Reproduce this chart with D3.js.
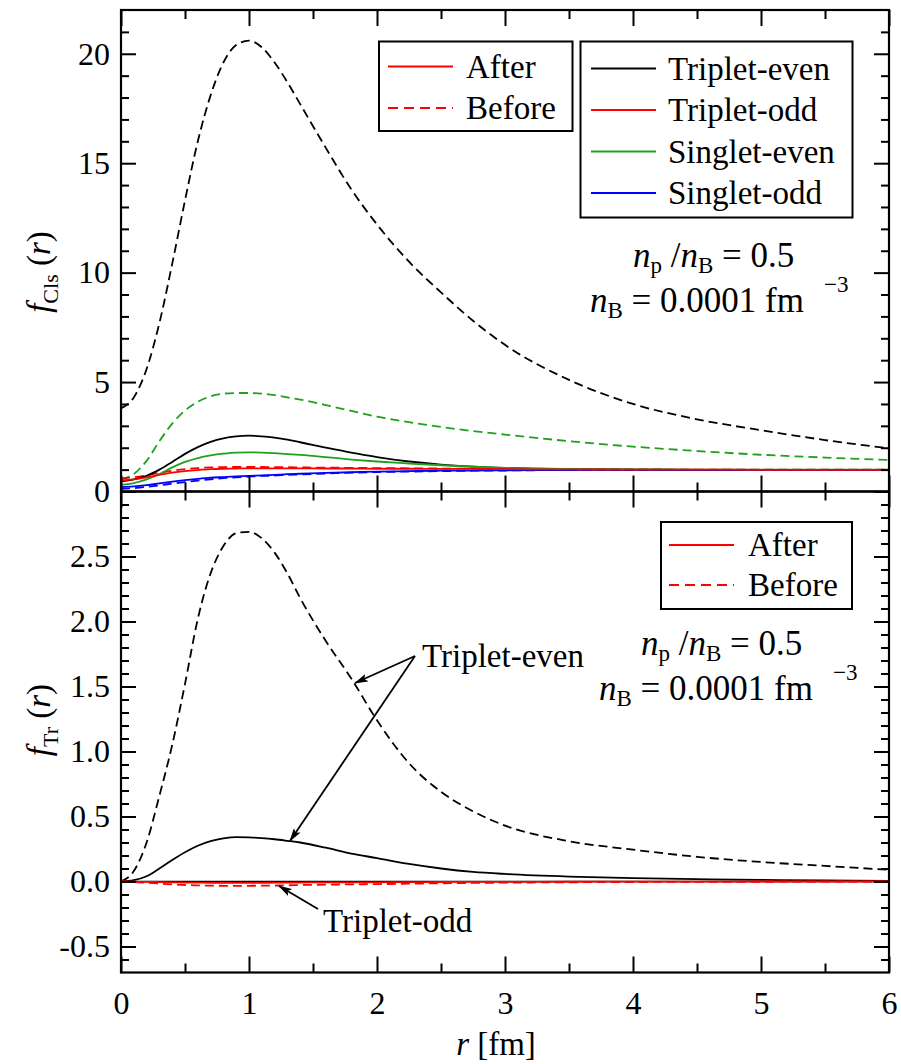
<!DOCTYPE html>
<html>
<head>
<meta charset="utf-8">
<script src="https://cdn.jsdelivr.net/npm/d3@7"></script>
<style>
  body { margin: 0; background: #fff; }
  svg { display: block; background: #fff; }
  svg text { font-family: "Liberation Serif", "Tinos", "Times New Roman", "Nimbus Roman", "DejaVu Serif", serif !important; fill: #000; }
</style>
</head>
<body>
<svg id="chart" width="901" height="1064"></svg>
<script>
// Radial grid (fm) shared by every curve
const r = [0, 0.1, 0.2, 0.3, 0.4, 0.5, 0.6, 0.7, 0.8, 0.9, 1.0, 1.1, 1.2, 1.3, 1.4, 1.6, 1.8, 2.0, 2.25, 2.5, 2.75, 3.0, 3.5, 4.0, 4.5, 5.0, 5.5, 6.0];

// Upper panel: f_Cls(r)
const clsTripletEvenBefore = [3.8, 4.3, 5.6, 7.7, 10.4, 13.3, 16.0, 18.1, 19.6, 20.4, 20.6, 20.3, 19.6, 18.7, 17.7, 15.7, 13.8, 12.2, 10.5, 9.1, 7.8, 6.7, 5.1, 4.0, 3.3, 2.8, 2.35, 1.97];
const clsTripletEvenAfter  = [0.45, 0.55, 0.72, 1.0, 1.35, 1.72, 2.03, 2.27, 2.43, 2.52, 2.55, 2.52, 2.46, 2.37, 2.25, 2.0, 1.78, 1.57, 1.37, 1.23, 1.14, 1.08, 1.02, 1.0, 0.99, 0.99, 0.99, 0.99];
const clsTripletOddBefore  = [0.6, 0.65, 0.74, 0.85, 0.95, 1.02, 1.07, 1.1, 1.11, 1.12, 1.12, 1.12, 1.11, 1.11, 1.1, 1.09, 1.08, 1.07, 1.06, 1.05, 1.04, 1.03, 1.02, 1.01, 1.0, 1.0, 1.0, 1.0];
const clsTripletOddAfter   = [0.5, 0.55, 0.65, 0.76, 0.86, 0.93, 0.98, 1.02, 1.04, 1.05, 1.06, 1.06, 1.06, 1.06, 1.06, 1.05, 1.05, 1.04, 1.04, 1.03, 1.03, 1.02, 1.01, 1.0, 1.0, 0.99, 0.99, 0.99];
const clsSingletEvenBefore = [0.55, 0.8, 1.4, 2.3, 3.1, 3.7, 4.1, 4.35, 4.47, 4.5, 4.5, 4.47, 4.4, 4.3, 4.2, 3.95, 3.68, 3.42, 3.17, 2.95, 2.76, 2.6, 2.3, 2.05, 1.85, 1.68, 1.55, 1.44];
const clsSingletEvenAfter  = [0.3, 0.38, 0.55, 0.8, 1.1, 1.35, 1.53, 1.65, 1.73, 1.78, 1.79, 1.78, 1.75, 1.71, 1.67, 1.57, 1.46, 1.37, 1.28, 1.2, 1.13, 1.08, 1.03, 1.01, 1.0, 1.0, 1.0, 1.0];
const clsSingletOddBefore  = [0.12, 0.15, 0.21, 0.28, 0.36, 0.43, 0.5, 0.56, 0.61, 0.65, 0.68, 0.71, 0.73, 0.76, 0.78, 0.82, 0.86, 0.89, 0.91, 0.93, 0.95, 0.96, 0.98, 0.98, 0.99, 0.99, 0.99, 0.99];
const clsSingletOddAfter   = [0.2, 0.23, 0.29, 0.37, 0.45, 0.52, 0.58, 0.63, 0.66, 0.69, 0.71, 0.74, 0.76, 0.79, 0.81, 0.85, 0.88, 0.91, 0.93, 0.95, 0.96, 0.97, 0.98, 0.99, 0.99, 0.99, 0.99, 0.99];

// Lower panel: f_Tr(r)
const trTripletEvenBefore = [0, 0.08, 0.3, 0.66, 1.05, 1.52, 2.02, 2.37, 2.58, 2.68, 2.69, 2.64, 2.53, 2.37, 2.18, 1.85, 1.56, 1.24, 0.91, 0.69, 0.54, 0.43, 0.31, 0.245, 0.19, 0.15, 0.12, 0.09];
const trTripletEvenAfter  = [0, 0.01, 0.04, 0.1, 0.165, 0.225, 0.275, 0.31, 0.332, 0.342, 0.34, 0.334, 0.325, 0.313, 0.3, 0.26, 0.215, 0.18, 0.135, 0.1, 0.074, 0.058, 0.038, 0.026, 0.018, 0.012, 0.008, 0.005];
const trTripletOddBefore  = [0, -0.005, -0.01, -0.016, -0.022, -0.027, -0.03, -0.032, -0.033, -0.033, -0.033, -0.032, -0.031, -0.029, -0.027, -0.024, -0.022, -0.02, -0.017, -0.014, -0.011, -0.009, -0.006, -0.004, -0.003, -0.002, -0.001, -0.001];
const trTripletOddAfter   = [0, -0.002, -0.003, -0.005, -0.006, -0.008, -0.009, -0.01, -0.01, -0.01, -0.01, -0.01, -0.009, -0.009, -0.008, -0.007, -0.007, -0.006, -0.005, -0.004, -0.003, -0.003, -0.002, -0.001, -0.001, 0, 0, 0];

// Tick values
const xMajor = [0, 1, 2, 3, 4, 5, 6];
const xMinor = [0.5, 1.5, 2.5, 3.5, 4.5, 5.5];
const yTopMajor = [0, 5, 10, 15, 20];
const yBotMajor = [-0.5, 0.0, 0.5, 1.0, 1.5, 2.0, 2.5];

// Legend entries
const speciesNames = ["Triplet-even", "Triplet-odd", "Singlet-even", "Singlet-odd"];
const speciesColors = ["#000000", "#ff0000", "#1fa01f", "#0000ff"];
const stateNames = ["After", "Before"];

const RED = "#ff0000", GREEN = "#1fa01f", BLUE = "#0000ff", BLACK = "#000000";
const DASH = "9,5";
const SERIF = "'Liberation Serif', 'Tinos', 'Times New Roman', 'Nimbus Roman', 'DejaVu Serif', serif";

const svg = d3.select("#chart").attr("font-family", SERIF);
const L = 121, R = 889, T = 10, MID = 491.5, B = 972.5;

const x = d3.scaleLinear().domain([0, 6]).range([L, R]);
const yTop = d3.scaleLinear().domain([0, 22]).range([MID, T]);
const yBot = d3.scaleLinear().domain([-0.7, 3.0]).range([B, MID]);

const defs = svg.append("defs");
defs.append("clipPath").attr("id", "clipTop")
  .append("rect").attr("x", L).attr("y", T).attr("width", R - L).attr("height", MID - T);
defs.append("clipPath").attr("id", "clipBot")
  .append("rect").attr("x", L).attr("y", MID).attr("width", R - L).attr("height", B - MID);
defs.append("marker").attr("id", "arrow")
  .attr("markerUnits", "userSpaceOnUse")
  .attr("markerWidth", 14).attr("markerHeight", 8)
  .attr("refX", 13).attr("refY", 4).attr("orient", "auto")
  .append("path").attr("d", "M0,0 L14,4 L0,8 L3,4 Z").attr("fill", "#000");

function drawCurve(g, yScale, values, color, dashed) {
  const line = d3.line()
    .x((d, i) => x(r[i]))
    .y(d => yScale(d))
    .curve(d3.curveMonotoneX);
  g.append("path")
    .attr("d", line(values))
    .attr("fill", "none")
    .attr("stroke", color)
    .attr("stroke-width", 1.8)
    .attr("stroke-dasharray", dashed ? DASH : null);
}

// ---- Upper panel curves
const gTop = svg.append("g").attr("clip-path", "url(#clipTop)");
drawCurve(gTop, yTop, clsTripletEvenBefore, BLACK, true);
drawCurve(gTop, yTop, clsSingletEvenBefore, GREEN, true);
drawCurve(gTop, yTop, clsSingletOddBefore, BLUE, true);
drawCurve(gTop, yTop, clsTripletOddBefore, RED, true);
drawCurve(gTop, yTop, clsTripletEvenAfter, BLACK, false);
drawCurve(gTop, yTop, clsSingletEvenAfter, GREEN, false);
drawCurve(gTop, yTop, clsSingletOddAfter, BLUE, false);
drawCurve(gTop, yTop, clsTripletOddAfter, RED, false);

// ---- Lower panel curves
const gBot = svg.append("g").attr("clip-path", "url(#clipBot)");
gBot.append("line").attr("x1", L).attr("x2", R).attr("y1", yBot(0)).attr("y2", yBot(0))
  .attr("stroke", "#000").attr("stroke-width", 1.5);
drawCurve(gBot, yBot, trTripletEvenBefore, BLACK, true);
drawCurve(gBot, yBot, trTripletEvenAfter, BLACK, false);
drawCurve(gBot, yBot, trTripletOddBefore, RED, true);
drawCurve(gBot, yBot, trTripletOddAfter, RED, false);

// ---- Axes (inward ticks on all sides)
function styleAxis(g) {
  g.attr("font-family", SERIF).attr("font-size", 32);
  g.select(".domain").remove();
  g.selectAll(".tick line").attr("stroke", "#000").attr("stroke-width", 2);
  g.selectAll(".tick text").attr("fill", "#000");
  return g;
}
function noLabels() { return ""; }
function addAxis(axisFn, scale, values, size, tx, ty, fmt, pad) {
  const a = axisFn(scale).tickValues(values).tickSize(size).tickPadding(pad || 0)
    .tickFormat(fmt || noLabels);
  svg.append("g").attr("transform", `translate(${tx},${ty})`).call(a).call(styleAxis);
}
const topMinor = d3.range(1, 22).filter(v => v % 5 !== 0);
const botMinor = d3.range(-6, 30).map(v => v / 10).filter(v => Math.abs(Math.round(v * 10) % 5) !== 0);

// upper panel
addAxis(d3.axisLeft, yTop, yTopMajor, -15, L, 0, d => String(d), 11);
addAxis(d3.axisLeft, yTop, topMinor, -8, L, 0);
addAxis(d3.axisRight, yTop, yTopMajor, -15, R, 0);
addAxis(d3.axisRight, yTop, topMinor, -8, R, 0);
addAxis(d3.axisTop, x, xMajor, -16, 0, T);
addAxis(d3.axisTop, x, xMinor, -9, 0, T);
// shared boundary: upper panel ticks point up, lower panel ticks point down
addAxis(d3.axisBottom, x, xMajor, -16, 0, MID);
addAxis(d3.axisBottom, x, xMinor, -9, 0, MID);
addAxis(d3.axisBottom, x, xMajor, 16, 0, MID);
addAxis(d3.axisBottom, x, xMinor, 9, 0, MID);

// lower panel
addAxis(d3.axisBottom, x, xMajor, -16, 0, B, d => String(d), 19);
addAxis(d3.axisBottom, x, xMinor, -9, 0, B);
addAxis(d3.axisLeft, yBot, yBotMajor, -15, L, 0, d => d.toFixed(1), 11);
addAxis(d3.axisLeft, yBot, botMinor, -8, L, 0);
addAxis(d3.axisRight, yBot, yBotMajor, -15, R, 0);
addAxis(d3.axisRight, yBot, botMinor, -8, R, 0);

// Panel frames
[[T, MID], [MID, B]].forEach(([y0, y1]) => {
  svg.append("rect").attr("x", L).attr("y", y0).attr("width", R - L).attr("height", y1 - y0)
    .attr("fill", "none").attr("stroke", "#000").attr("stroke-width", 2.2);
});

// ---- Legends
function legendBox(x0, y0, x1, y1) {
  svg.append("rect").attr("x", x0).attr("y", y0).attr("width", x1 - x0).attr("height", y1 - y0)
    .attr("fill", "#fff").attr("stroke", "#000").attr("stroke-width", 2);
}
function legendRow(lx, ly, color, dashed, label, tx) {
  svg.append("line").attr("x1", lx).attr("x2", lx + 65).attr("y1", ly).attr("y2", ly)
    .attr("stroke", color).attr("stroke-width", 1.8)
    .attr("stroke-dasharray", dashed ? "10,6" : null);
  svg.append("text").attr("x", tx).attr("y", ly + 11).attr("font-size", 33).text(label);
}
// style legend (upper)
legendBox(379, 41.5, 572.5, 131);
stateNames.forEach((s, i) => legendRow(388, 66.5 + i * 41.5, RED, i === 1, s, 466));
// species legend (upper)
legendBox(580.5, 41.5, 852.5, 217.5);
speciesNames.forEach((s, i) => legendRow(591, 68.5 + i * 41.5, speciesColors[i], false, s, 668));
// style legend (lower)
legendBox(661, 522, 852, 609);
stateNames.forEach((s, i) => legendRow(669, 545 + i * 40, RED, i === 1, s, 748));

// ---- Density annotations
function densityNote(x1, y1, x2, y2) {
  const t1 = svg.append("text").attr("x", x1).attr("y", y1).attr("font-size", 35);
  t1.append("tspan").attr("font-style", "italic").text("n");
  t1.append("tspan").attr("font-size", 23).attr("dy", 6).text("p");
  t1.append("tspan").attr("dy", -6).text(" /");
  t1.append("tspan").attr("font-style", "italic").text("n");
  t1.append("tspan").attr("font-size", 23).attr("dy", 6).text("B");
  t1.append("tspan").attr("dy", -6).text(" = 0.5");
  const t2 = svg.append("text").attr("x", x2).attr("y", y2).attr("font-size", 35);
  t2.append("tspan").attr("font-style", "italic").text("n");
  t2.append("tspan").attr("font-size", 23).attr("dy", 6).text("B");
  t2.append("tspan").attr("dy", -6).text(" = 0.0001 fm");
  t2.append("tspan").attr("font-size", 23).attr("dx", 20).attr("dy", -20).text("\u22123");
}
densityNote(633, 267, 590, 312);
densityNote(641, 655, 599, 700);

// ---- Curve annotations with arrows
svg.append("text").attr("x", 422).attr("y", 667).attr("font-size", 33).text("Triplet-even");
[[415, 656, 355, 683], [415, 656, 290, 841]].forEach(([x1, y1, x2, y2]) => {
  svg.append("line").attr("x1", x1).attr("y1", y1).attr("x2", x2).attr("y2", y2)
    .attr("stroke", "#000").attr("stroke-width", 1.8).attr("marker-end", "url(#arrow)");
});
svg.append("text").attr("x", 323).attr("y", 932).attr("font-size", 33).text("Triplet-odd");
svg.append("line").attr("x1", 318).attr("y1", 909).attr("x2", 279).attr("y2", 886)
  .attr("stroke", "#000").attr("stroke-width", 1.8).attr("marker-end", "url(#arrow)");

// ---- Axis titles
function yTitle(cx, cy, sub) {
  const t = svg.append("text").attr("transform", `translate(${cx},${cy}) rotate(-90)`)
    .attr("text-anchor", "middle").attr("font-size", 33);
  t.append("tspan").attr("font-style", "italic").text("f");
  t.append("tspan").attr("font-size", 22).attr("dy", 8).text(sub);
  t.append("tspan").attr("dy", -8).text(" (");
  t.append("tspan").attr("font-style", "italic").text("r");
  t.append("tspan").text(")");
}
yTitle(50, 272, "Cls");
yTitle(50, 720, "Tr");

const xt = svg.append("text").attr("x", 496).attr("y", 1055).attr("text-anchor", "middle").attr("font-size", 33);
xt.append("tspan").attr("font-style", "italic").text("r");
xt.append("tspan").text(" [fm]");
</script>
</body>
</html>
